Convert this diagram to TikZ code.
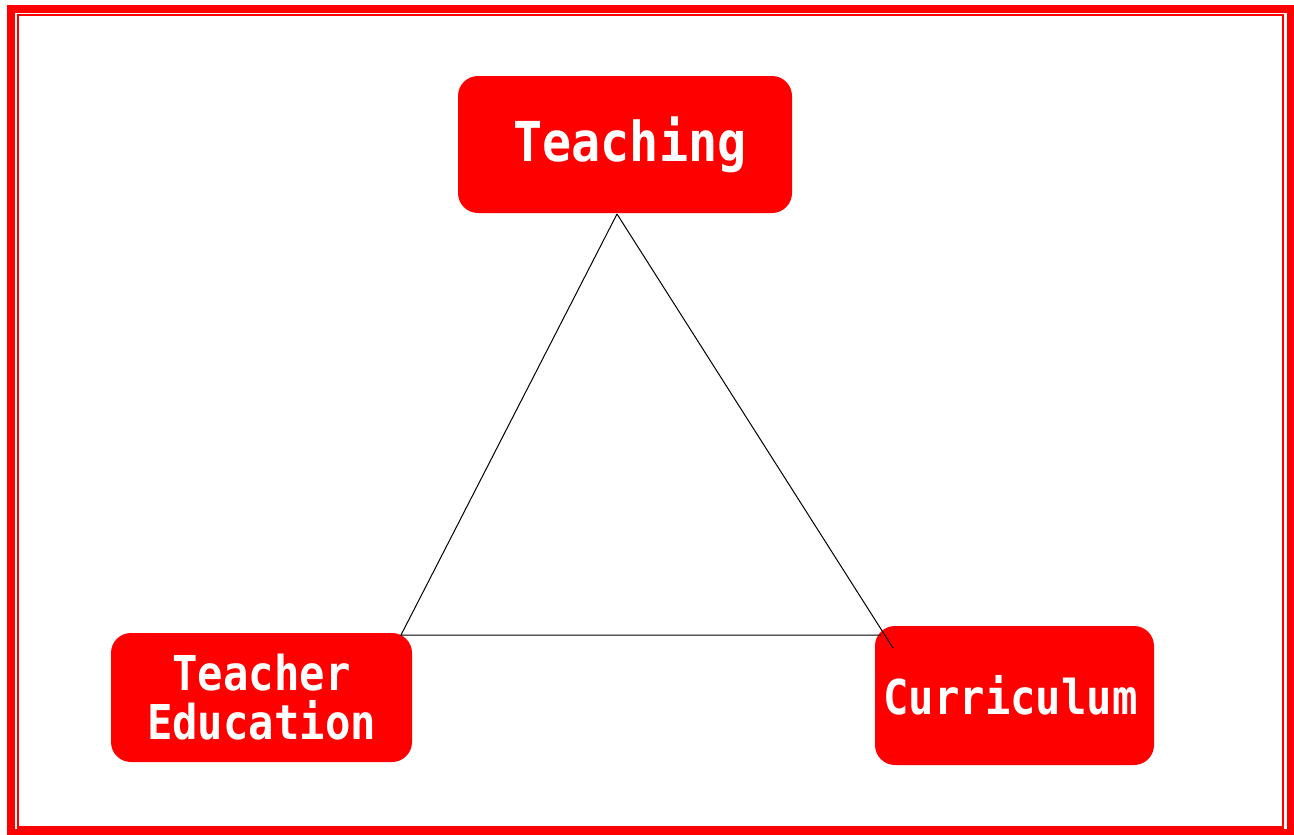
\documentclass[tikz,border=0pt]{standalone}
\usepackage{fontspec}
\newfontfamily\boxfont[FakeStretch=0.88]{DejaVu Sans Mono}
\begin{document}
\begin{tikzpicture}[x=1pt,y=-1pt,line width=1pt]
\tikzstyle{topic}=[fill=red,text=white,rounded corners=20pt,inner sep=0pt,align=center,
  font=\boxfont\bfseries\fontsize{48}{49}\selectfont]
\useasboundingbox (0,0) rectangle (1294,835);
% double red frame
\draw[red,line width=8pt] (11,9) rectangle (1290.5,833);
\draw[red,line width=2.5pt] (18,15) rectangle (1283,827.5);
% the three boxes
\node[topic,minimum width=334pt,minimum height=137pt,
  font=\boxfont\bfseries\fontsize{55}{60}\selectfont] (teach) at (625,144.5) {\hspace*{10pt}Teaching};
\node[topic,minimum width=301pt,minimum height=129pt] (educ) at (261.5,697.5) {Teacher\\Education};
\node[topic,minimum width=279pt,minimum height=139pt] (curr) at (1014.5,695.5) {Curriculum\hspace*{8pt}};
% triangle
\coordinate (apex) at (617,214);
\coordinate (left) at (401,635);
\coordinate (base) at (881,635);
\coordinate (tail) at (893,648);
\draw (apex) -- (left) -- (base);
\draw (apex) -- (tail);
\end{tikzpicture}
\end{document}
